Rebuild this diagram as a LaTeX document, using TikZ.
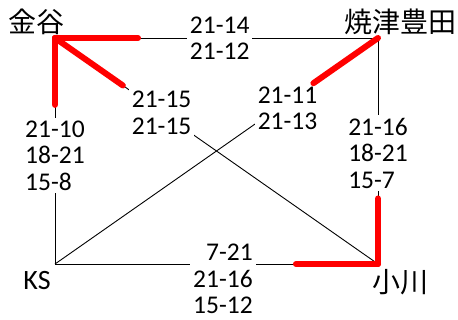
\documentclass[tikz,border=0pt]{standalone}
\usepackage{fontspec}
\setmainfont{Carlito}
\newfontfamily\jpfont{Noto Sans CJK JP}
\tikzset{
  team/.style={inner sep=0pt,font=\fontsize{28}{30}\selectfont},
  score/.style={fill=white,inner sep=3pt,align=left,font=\fontsize{25.5}{26.5}\selectfont},
  game/.style={line width=0.9pt},
  win/.style={red,line width=6pt,line cap=round}
}
\begin{document}
\begin{tikzpicture}[x=1pt,y=-1pt]
    \useasboundingbox (0,0) rectangle (458,320);
    \coordinate (kanaya) at (55,38);
    \coordinate (yaizu) at (378,38);
    \coordinate (ks) at (55,264);
    \coordinate (ogawa) at (378,264);
    \node[team] (kanayaL) at (37,22) {\jpfont 金谷};
    \node[team] (yaizuL) at (400,22) {\jpfont 焼津豊田};
    \node[team] (ksL) at (37,281) {KS};
    \node[team] (ogawaL) at (400,282) {\jpfont 小川};
    \draw[game] (kanaya) -- node[score,pos=0.51] (s1) {21-14\\21-12} (yaizu);
    \draw[game] (kanaya) -- node[score,pos=0.52] (s2) {21-10\\18-21\\15-8} (ks);
    \draw[game] (yaizu) -- node[score,pos=0.51] (s3) {21-16\\18-21\\15-7} (ogawa);
    \draw[game] (ks) -- node[score,pos=0.52,yshift=-15pt,align=right] (s4) {7-21\\21-16\\15-12} (ogawa);
    \draw[game] (kanaya) -- node[score,pos=0.33] (s5) {21-15\\21-15} (ogawa);
    \draw[game] (yaizu) -- node[score,pos=0.28,yshift=-7pt] (s6) {21-11\\21-13} (ks);
    \path (kanaya) -- coordinate[pos=0.257] (w1) (yaizu);
    \path (kanaya) -- coordinate[pos=0.296] (w2) (ks);
    \path (kanaya) -- coordinate[pos=0.21] (w3) (ogawa);
    \path (yaizu) -- coordinate[pos=0.20] (w4) (ks);
    \path (ogawa) -- coordinate[pos=0.29] (w5) (yaizu);
    \path (ogawa) -- coordinate[pos=0.254] (w6) (ks);
    \draw[win] (kanaya) -- (w1);
    \draw[win] (kanaya) -- (w2);
    \draw[win] (kanaya) -- (w3);
    \draw[win] (yaizu) -- (w4);
    \draw[win] (ogawa) -- (w5);
    \draw[win] (ogawa) -- (w6);
\end{tikzpicture}
\end{document}
